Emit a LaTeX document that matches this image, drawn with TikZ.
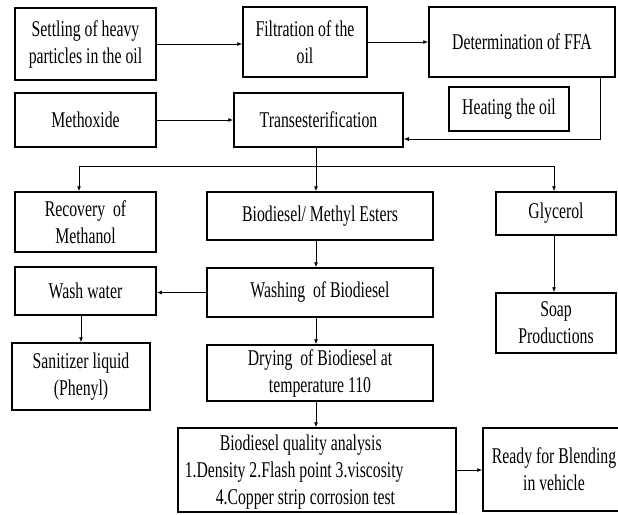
\documentclass[tikz,border=0pt]{standalone}
\usepackage{fontspec}
\setmainfont{Liberation Serif}[FakeStretch=0.70]
\usetikzlibrary{arrows.meta}
\tikzset{
  box/.style={draw=black, line width=1.5pt, fill=white, align=center, inner sep=0pt,
    font=\fontsize{22.5}{27}\selectfont},
  arr/.style={-{Latex[length=5pt,width=4pt]}, line width=0.8pt},
  plain/.style={line width=0.8pt},
}
\begin{document}
\begin{tikzpicture}[x=1pt,y=-1pt]
\useasboundingbox (0,0) rectangle (618,514);
% boxes
\node[box, minimum width=141pt, minimum height=72pt] (settle) at (85.5,44) {Settling of heavy\\particles in the oil};
\node[box, minimum width=124pt, minimum height=70pt] (filt) at (305,42) {Filtration of the\\oil};
\node[box, minimum width=186pt, minimum height=70pt] (det) at (522,42) {Determination of FFA};
\node[box, minimum width=120pt, minimum height=44pt] (heat) at (509,109) {Heating the oil};
\node[box, minimum width=141pt, minimum height=54pt] (meth) at (85.5,120) {Methoxide};
\node[box, minimum width=169pt, minimum height=54pt] (trans) at (318.5,120) {Transesterification};
\node[box, minimum width=141pt, minimum height=60pt] (recov) at (85.5,222) {Recovery\ \ of\\Methanol};
\node[box, minimum width=226pt, minimum height=48pt] (biod) at (320,216) {Biodiesel/ Methyl Esters};
\node[box, minimum width=120pt, minimum height=43pt] (glyc) at (556,213.5) {Glycerol};
\node[box, minimum width=141pt, minimum height=48pt] (washw) at (85.5,291) {Wash water};
\node[box, minimum width=226pt, minimum height=49pt] (washing) at (320,292.5) {Washing\ \ of Biodiesel};
\node[box, minimum width=120pt, minimum height=60pt] (soap) at (556,323) {Soap\\Productions};
\node[box, minimum width=138pt, minimum height=67pt] (sanit) at (81,376.5) {Sanitizer liquid\\(Phenyl)};
\node[box, minimum width=226pt, minimum height=56pt] (dry) at (320,373) {Drying\ \ of Biodiesel at\\temperature 110};
\node[box, minimum width=278pt, minimum height=84pt] (qual) at (317,470) {};
\node[box, draw=none, fill=none, align=left, anchor=west] (qualtext) at (184,472)
  {\hspace*{35pt}Biodiesel quality analysis\\1.Density 2.Flash point 3.viscosity\\\hspace*{31pt}4.Copper strip corrosion test};
\node[box, minimum width=142pt, minimum height=83pt] (ready) at (554,469.5) {Ready for Blending\\in vehicle};
% helper coordinates
\coordinate (c1) at (600,139);
\coordinate (bus) at (316,166);
\coordinate (bl) at (79,166);
\coordinate (br) at (554,166);
% connectors
\draw[arr] (settle.east) -- (settle.east -| filt.west);
\draw[arr] (filt.east) -- (filt.east -| det.west);
\draw[arr] (det.south -| c1) -- (c1) -- (c1 -| trans.east);
\draw[arr] (meth.east) -- (meth.east -| trans.west);
\draw[plain] (trans.south -| bus) -- (bus);
\draw[plain] (bl) -- (br);
\draw[arr] (bus) -- (bus |- biod.north);
\draw[arr] (bl) -- (bl |- recov.north);
\draw[arr] (br) -- (br |- glyc.north);
\draw[arr] (biod.south -| bus) -- (bus |- washing.north);
\draw[arr] (washing.west) -- (washing.west -| washw.east);
\draw[arr] (washw.south -| sanit.north) -- (sanit.north);
\draw[arr] (glyc.south -| br) -- (br |- soap.north);
\draw[arr] (washing.south -| bus) -- (bus |- dry.north);
\draw[arr] (dry.south -| bus) -- (bus |- qual.north);
\draw[arr] (qual.east) -- (qual.east -| ready.west);
\end{tikzpicture}
\end{document}
